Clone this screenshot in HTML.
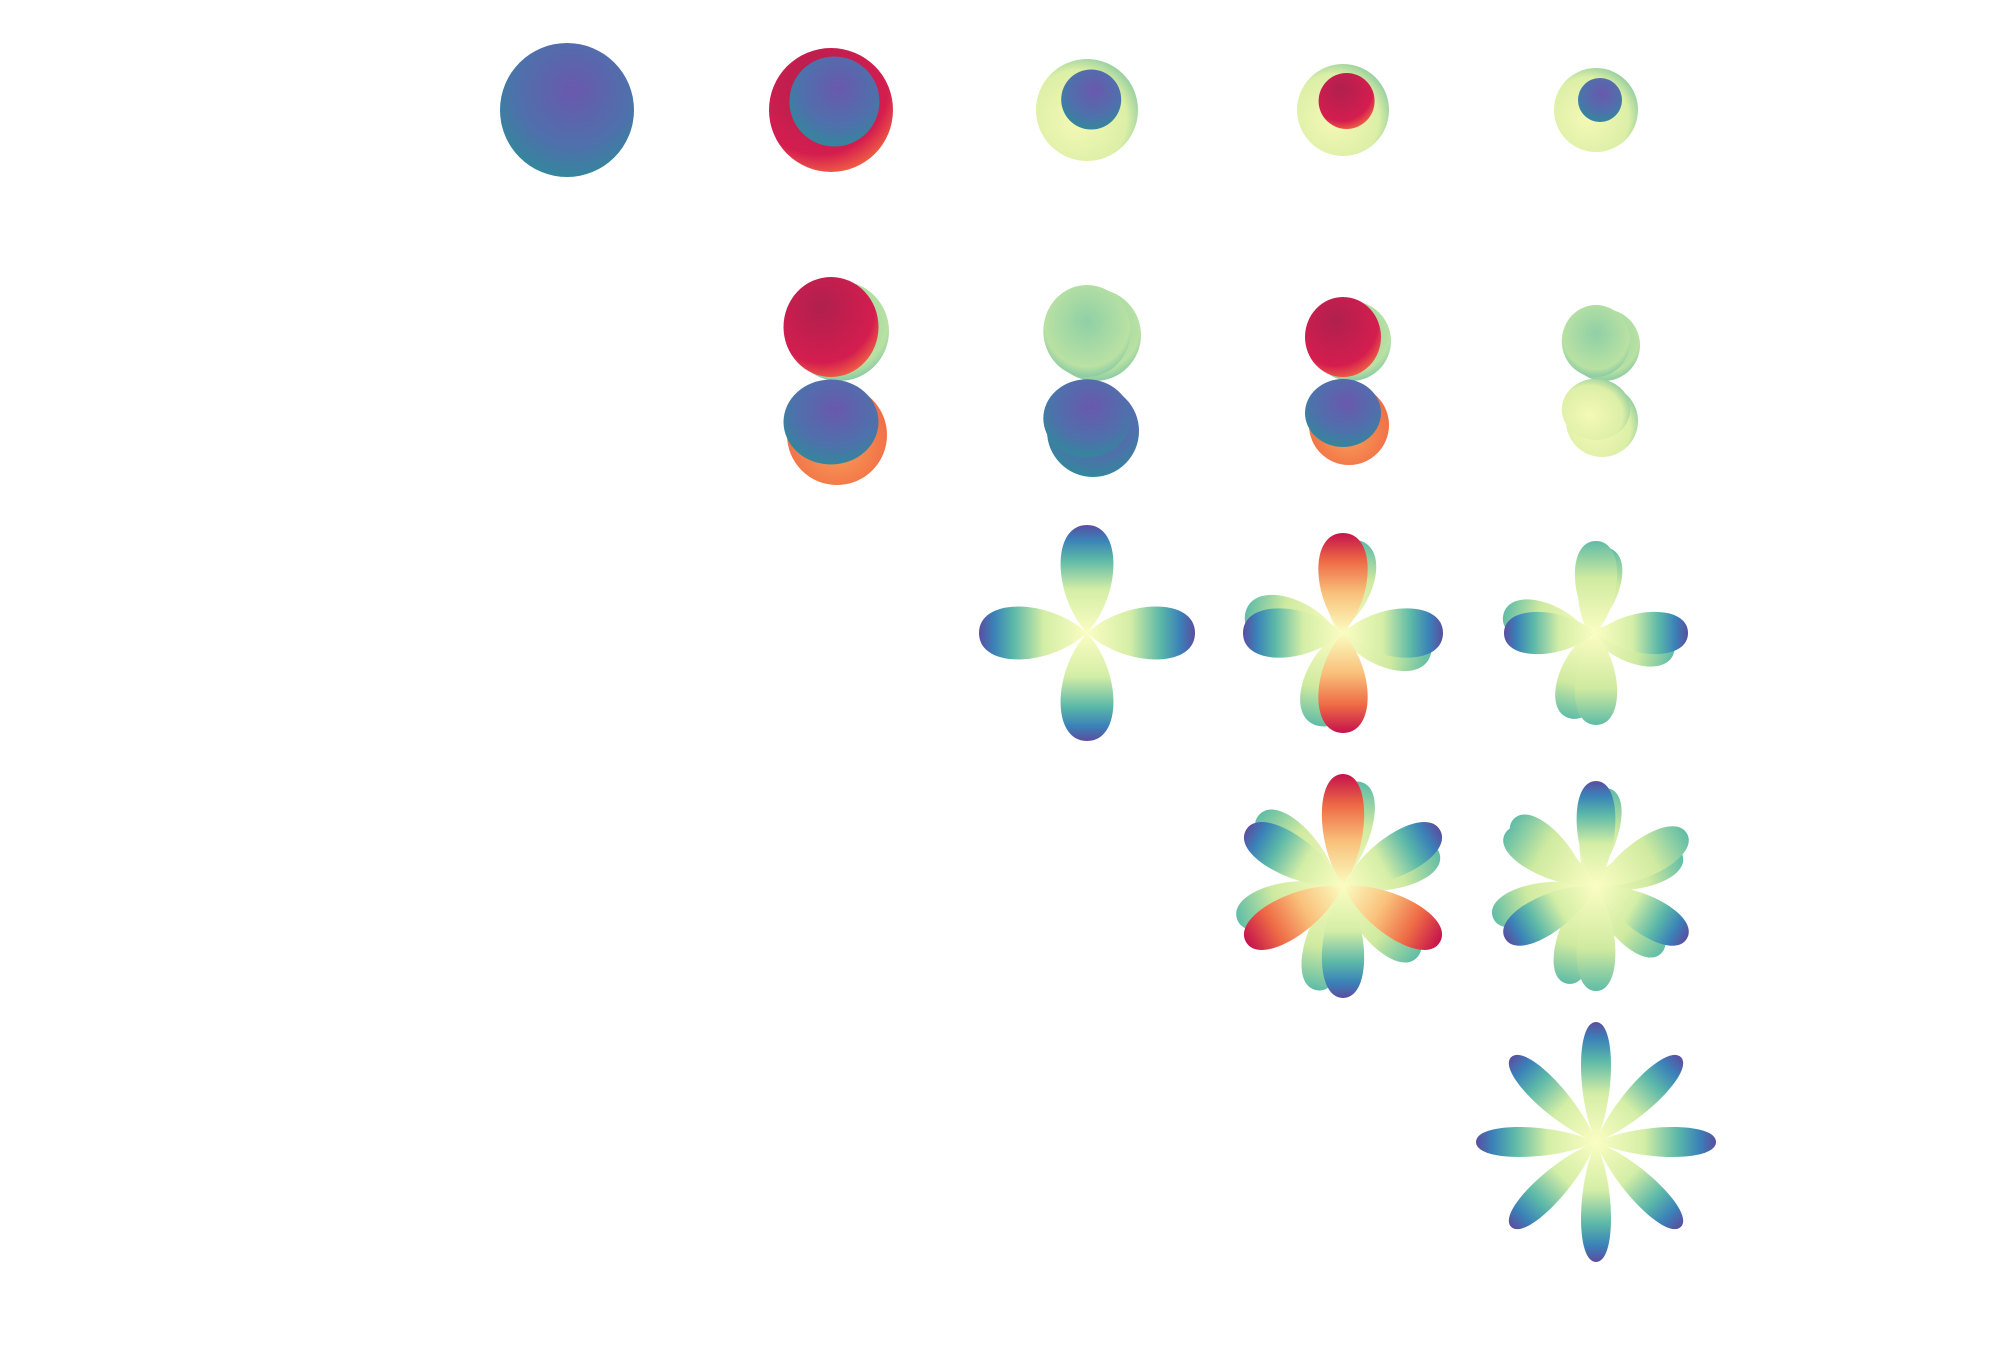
<!DOCTYPE html>
<html><head><meta charset="utf-8"><style>
html,body{margin:0;padding:0;background:#fff;}
svg{display:block;}
</style></head><body>
<svg id="chart" width="2000" height="1350" viewBox="0 0 2000 1350" xmlns="http://www.w3.org/2000/svg">
<defs>
<linearGradient id="petalBlue" x1="0" y1="1" x2="0" y2="0">
<stop offset="0" stop-color="#fbfdc2"/><stop offset="0.4" stop-color="#d4eea6"/><stop offset="0.68" stop-color="#5cb8a8"/><stop offset="0.86" stop-color="#3a82b8"/><stop offset="1" stop-color="#5a4ea0"/></linearGradient>
<linearGradient id="petalRed" x1="0" y1="1" x2="0" y2="0">
<stop offset="0" stop-color="#fbfdc2"/><stop offset="0.4" stop-color="#f9c07a"/><stop offset="0.72" stop-color="#ee6a45"/><stop offset="1" stop-color="#c4124c"/></linearGradient>
<linearGradient id="petalGreen" x1="0" y1="1" x2="0" y2="0">
<stop offset="0" stop-color="#fbfdc2"/><stop offset="0.6" stop-color="#cfeaa0"/><stop offset="1" stop-color="#5fbca6"/></linearGradient>
<radialGradient id="ballBlue" cx="0.55" cy="0.35" r="0.7">
<stop offset="0" stop-color="#6a58ad"/><stop offset="0.6" stop-color="#4f70ac"/><stop offset="1" stop-color="#2f8a9a"/></radialGradient>
<radialGradient id="ballRed" cx="0.4" cy="0.3" r="0.8">
<stop offset="0" stop-color="#b0204e"/><stop offset="0.7" stop-color="#d41d4f"/><stop offset="0.9" stop-color="#ef5b45"/><stop offset="1" stop-color="#a3104a"/></radialGradient>
<radialGradient id="ballYellow" cx="0.4" cy="0.6" r="0.7">
<stop offset="0" stop-color="#f4f9b6"/><stop offset="0.7" stop-color="#dcefa6"/><stop offset="1" stop-color="#7dc39e"/></radialGradient>
<radialGradient id="ballTeal" cx="0.5" cy="0.4" r="0.7">
<stop offset="0" stop-color="#8fd0a6"/><stop offset="0.7" stop-color="#b9e1a3"/><stop offset="1" stop-color="#5fb6a4"/></radialGradient>
<radialGradient id="ballOrange" cx="0.5" cy="0.6" r="0.7">
<stop offset="0" stop-color="#f9a05a"/><stop offset="1" stop-color="#ee5f3f"/></radialGradient>
</defs>
<g id="plots"></g>
</svg>
<script>
const colCenters = [567, 831, 1087, 1343, 1596];
const rowCenters = [110, 377, 633, 886, 1142];
const sphereRadius = [67, 62, 51, 46, 42];
const sphereFill = ['ballBlue', 'ballRed', 'ballYellow', 'ballYellow', 'ballYellow'];
const sphereInner = [0, 45, 30, 28, 22];
const innerFill = ['ballBlue', 'ballBlue', 'ballBlue', 'ballRed', 'ballBlue'];
const dumbCols = [1, 2, 3, 4];
const dumbRadius = [50, 46, 40, 36];
const dumbTop = ['ballRed', 'ballTeal', 'ballRed', 'ballTeal'];
const dumbBottom = ['ballBlue', 'ballBlue', 'ballBlue', 'ballYellow'];
const dumbBack = ['ballOrange', 'ballBlue', 'ballOrange', 'ballYellow'];
const flowerRows = [2, 2, 2, 3, 3, 4];
const flowerCols = [2, 3, 4, 3, 4, 4];
const petalLength = [108, 100, 92, 112, 105, 120];
const petalWidth = [30, 28, 24, 24, 22, 17];
const petalFill = ['petalBlue', 'petalRed', 'petalGreen', 'petalRed', 'petalBlue', 'petalBlue'];
const petalAltFill = ['petalBlue', 'petalBlue', 'petalBlue', 'petalBlue', 'petalGreen', 'petalBlue'];
const ghostShift = [0, 8, 12, 8, 14, 0];

const NS = 'http://www.w3.org/2000/svg';
const g = document.getElementById('plots');
function mk(tag, attrs) {
  const e = document.createElementNS(NS, tag);
  for (const k in attrs) e.setAttribute(k, attrs[k]);
  g.appendChild(e);
  return e;
}
function petal(cx, cy, L, w, ang, fill) {
  const d = `M0,0 C${w*1.15},${-L*0.35} ${w*1.2},${-L} 0,${-L} C${-w*1.2},${-L} ${-w*1.15},${-L*0.35} 0,0 Z`;
  const p = mk('path', {d: d, fill: `url(#${fill})`, transform: `translate(${cx},${cy}) rotate(${ang})`});
  
  
  return p;
}
for (let i = 0; i < 5; i++) {
  const cx = colCenters[i], cy = rowCenters[0];
  const c = mk('circle', {cx: cx, cy: cy, r: sphereRadius[i], fill: `url(#${sphereFill[i]})`});
  
  
  if (sphereInner[i] > 0) {
    const off = sphereRadius[i] - sphereInner[i];
    const ic = mk('circle', {cx: cx + off*0.2, cy: cy - off*0.5, r: sphereInner[i], fill: `url(#${innerFill[i]})`});
    
    
  }
}
for (let i = 0; i < dumbCols.length; i++) {
  const cx = colCenters[dumbCols[i]], cy = rowCenters[1], R = dumbRadius[i];
  const b1 = mk('circle', {cx: cx + 8, cy: cy - R + 4, r: R, fill: 'url(#ballTeal)'});
  
  
  const b2 = mk('circle', {cx: cx + 6, cy: cy + R + 8, r: R, fill: `url(#${dumbBack[i]})`});
  
  
  const t = mk('ellipse', {cx: cx, cy: cy - R, rx: R*0.95, ry: R, fill: `url(#${dumbTop[i]})`});
  
  
  const bt = mk('ellipse', {cx: cx, cy: cy + R*0.9, rx: R*0.95, ry: R*0.85, fill: `url(#${dumbBottom[i]})`});
  
  
}
for (let i = 0; i < flowerRows.length; i++) {
  const l = flowerRows[i];
  const cx = colCenters[flowerCols[i]], cy = rowCenters[l];
  const n = 2 * l;
  if (ghostShift[i] > 0) {
    for (let k = 0; k < n; k++) {
      petal(cx - ghostShift[i]*0.6, cy, petalLength[i]*0.95, petalWidth[i], 360/n*k + 12, 'petalGreen');
    }
  }
  for (let k = 0; k < n; k++) {
    petal(cx, cy, petalLength[i], petalWidth[i], 360/n*k, k % 2 === 0 ? petalFill[i] : petalAltFill[i]);
  }
}
</script>
</body></html>
